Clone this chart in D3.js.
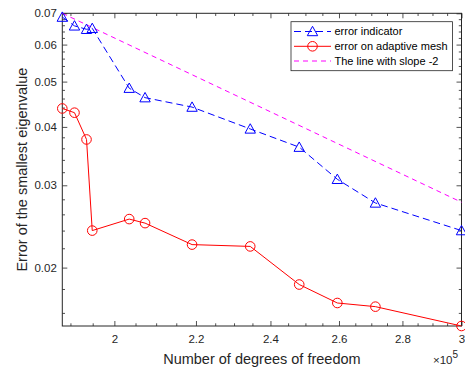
<!DOCTYPE html>
<html>
<head>
<meta charset="utf-8">
<script src="https://cdn.jsdelivr.net/npm/d3@7"></script>
<style>
  body { margin: 0; background: #fff; }
  svg { display: block; font-family: "Liberation Sans", Arial, Helvetica, sans-serif; }
</style>
</head>
<body>
<svg id="chart" width="465" height="367"></svg>
<script>
// data (log-log axes)
const dofs = [1.882e5, 1.909e5, 1.936e5, 1.949e5, 2.035e5, 2.073e5, 2.190e5, 2.344e5, 2.482e5, 2.595e5, 2.713e5, 3.0e5];
const errIndicator = [0.0687, 0.0658, 0.0647, 0.0650, 0.0484, 0.0462, 0.0441, 0.0396, 0.0362, 0.0309, 0.0275, 0.0240];
const errAdaptive = [0.0438, 0.0429, 0.0376, 0.0240, 0.0254, 0.0249, 0.0224, 0.0222, 0.0184, 0.0168, 0.0165, 0.0150];
const slopeX = [1.882e5, 3.0e5];
const slopeY = [0.0700, 0.0276];

// ticks
const xTicks = [2.0e5, 2.2e5, 2.4e5, 2.6e5, 2.8e5, 3.0e5];
const xTickLabels = ['2', '2.2', '2.4', '2.6', '2.8', '3'];
const yTicks = [0.02, 0.03, 0.04, 0.05, 0.06, 0.07];
const yTickLabels = ['0.02', '0.03', '0.04', '0.05', '0.06', '0.07'];

const legendLabels = ['error indicator', 'error on adaptive mesh', 'The line with slope -2'];

// layout
const margin = {t: 13.3, r: 3.5, b: 41, l: 62.3};
const width = 465, height = 367;
const axisColor = '#262626';

const svg = d3.select('#chart');

const x = d3.scaleLog()
    .domain([1.882e5, 3.0e5])
    .range([margin.l, width - margin.r]);
const y = d3.scaleLog()
    .domain([0.015, 0.07])
    .range([height - margin.b, margin.t]);

const x0 = x.range()[0], x1 = x.range()[1];
const y0 = y.range()[0], y1 = y.range()[1];

// minor ticks
const xMinor = d3.range(1.9e5, 3.0e5 + 1, 0.05e5).filter(v => !xTicks.some(t => Math.abs(t - v) < 1));
const yMinor = d3.range(0.016, 0.0701, 0.002).filter(v => !yTicks.some(t => Math.abs(t - v) < 1e-6));

// axes (ticks pointing inward, box on)
function styleAxis(g) {
    g.select('.domain').remove();
    g.selectAll('line').attr('stroke', axisColor).attr('stroke-width', 0.8);
    g.selectAll('text').attr('fill', axisColor).style('font-size', '11.5px');
}

svg.append('g')
    .attr('transform', `translate(0,${y0})`)
    .call(d3.axisBottom(x).tickValues(xTicks).tickFormat((d, i) => xTickLabels[i])
        .tickSizeInner(-5).tickSizeOuter(0).tickPadding(9))
    .call(styleAxis);
svg.append('g')
    .attr('transform', `translate(0,${y0})`)
    .call(d3.axisBottom(x).tickValues(xMinor).tickFormat('').tickSizeInner(-2.7).tickSizeOuter(0))
    .call(styleAxis);
svg.append('g')
    .attr('transform', `translate(0,${y1})`)
    .call(d3.axisTop(x).tickValues(xTicks).tickFormat('').tickSizeInner(-5).tickSizeOuter(0))
    .call(styleAxis);
svg.append('g')
    .attr('transform', `translate(0,${y1})`)
    .call(d3.axisTop(x).tickValues(xMinor).tickFormat('').tickSizeInner(-2.7).tickSizeOuter(0))
    .call(styleAxis);

svg.append('g')
    .attr('transform', `translate(${x0},0)`)
    .call(d3.axisLeft(y).tickValues(yTicks).tickFormat((d, i) => yTickLabels[i])
        .tickSizeInner(-5).tickSizeOuter(0).tickPadding(5.5))
    .call(styleAxis);
svg.append('g')
    .attr('transform', `translate(${x0},0)`)
    .call(d3.axisLeft(y).tickValues(yMinor).tickFormat('').tickSizeInner(-2.7).tickSizeOuter(0))
    .call(styleAxis);
svg.append('g')
    .attr('transform', `translate(${x1},0)`)
    .call(d3.axisRight(y).tickValues(yTicks).tickFormat('').tickSizeInner(-5).tickSizeOuter(0))
    .call(styleAxis);
svg.append('g')
    .attr('transform', `translate(${x1},0)`)
    .call(d3.axisRight(y).tickValues(yMinor).tickFormat('').tickSizeInner(-2.7).tickSizeOuter(0))
    .call(styleAxis);

// box
svg.append('rect')
    .attr('x', x0).attr('y', y1)
    .attr('width', x1 - x0).attr('height', y0 - y1)
    .attr('fill', 'none')
    .attr('stroke', axisColor)
    .attr('stroke-width', 1);

// axis labels
svg.append('text')
    .attr('x', (x0 + x1) / 2).attr('y', 363.5)
    .attr('text-anchor', 'middle')
    .attr('fill', axisColor)
    .style('font-size', '14.5px')
    .text('Number of degrees of freedom');

svg.append('text')
    .attr('transform', `translate(26.5,${(y0 + y1) / 2}) rotate(-90)`)
    .attr('text-anchor', 'middle')
    .attr('fill', axisColor)
    .style('font-size', '14.5px')
    .text('Error of the smallest eigenvalue');

const expo = svg.append('text')
    .attr('x', 433).attr('y', 363.5)
    .attr('fill', axisColor)
    .style('font-size', '11.5px');
expo.append('tspan').text('\u00d710');
expo.append('tspan').attr('dy', -6).style('font-size', '10px').text('5');

// lines
const line = d3.line()
    .x(d => x(d[0]))
    .y(d => y(d[1]));

const trianglePath = 'M0,-5.2L5.2,4.2L-5.2,4.2Z';

svg.append('path')
    .datum(d3.zip(slopeX, slopeY))
    .attr('d', line)
    .attr('fill', 'none')
    .attr('stroke', '#ff00ff')
    .attr('stroke-width', 1)
    .attr('stroke-dasharray', '5,4');

svg.append('path')
    .datum(d3.zip(dofs, errIndicator))
    .attr('d', line)
    .attr('fill', 'none')
    .attr('stroke', '#0000ff')
    .attr('stroke-width', 1)
    .attr('stroke-dasharray', '7,4');

svg.append('g').selectAll('path')
    .data(d3.zip(dofs, errIndicator))
    .join('path')
    .attr('transform', d => `translate(${x(d[0])},${y(d[1])})`)
    .attr('d', trianglePath)
    .attr('fill', 'none')
    .attr('stroke', '#0000ff')
    .attr('stroke-width', 1);

svg.append('path')
    .datum(d3.zip(dofs, errAdaptive))
    .attr('d', line)
    .attr('fill', 'none')
    .attr('stroke', '#ff0000')
    .attr('stroke-width', 1);

svg.append('g').selectAll('circle')
    .data(d3.zip(dofs, errAdaptive))
    .join('circle')
    .attr('cx', d => x(d[0]))
    .attr('cy', d => y(d[1]))
    .attr('r', 4.8)
    .attr('fill', 'none')
    .attr('stroke', '#ff0000')
    .attr('stroke-width', 1);

// legend
const legend = svg.append('g');
legend.append('rect')
    .attr('x', 291).attr('y', 21.7)
    .attr('width', 161.5).attr('height', 49)
    .attr('fill', '#fff')
    .attr('stroke', axisColor)
    .attr('stroke-width', 0.8);

const legendY = [31.5, 46.3, 61];
const legendStyles = [
    {color: '#0000ff', dash: '7,4', marker: 'triangle'},
    {color: '#ff0000', dash: null, marker: 'circle'},
    {color: '#ff00ff', dash: '5,4', marker: null}
];

legendLabels.forEach((label, i) => {
    const s = legendStyles[i];
    const ly = legendY[i];
    legend.append('line')
        .attr('x1', 294).attr('x2', 331)
        .attr('y1', ly).attr('y2', ly)
        .attr('stroke', s.color)
        .attr('stroke-width', 1)
        .attr('stroke-dasharray', s.dash);
    if (s.marker === 'triangle') {
        legend.append('path')
            .attr('transform', `translate(312.5,${ly})`)
            .attr('d', trianglePath)
            .attr('fill', 'none')
            .attr('stroke', s.color);
    } else if (s.marker === 'circle') {
        legend.append('circle')
            .attr('cx', 312.5).attr('cy', ly).attr('r', 4.8)
            .attr('fill', 'none')
            .attr('stroke', s.color);
    }
    legend.append('text')
        .attr('x', 334.5).attr('y', ly)
        .attr('dy', '0.35em')
        .attr('fill', '#000')
        .style('font-size', '11px')
        .text(label);
});
</script>
</body>
</html>
